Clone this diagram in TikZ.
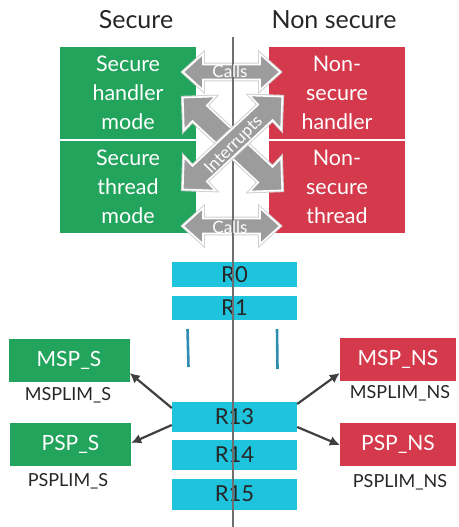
\documentclass[tikz,border=0pt]{standalone}
\usepackage{fontspec}
\setmainfont{Lato}
\usetikzlibrary{arrows.meta}
\definecolor{secgreen}{HTML}{22A45C}
\definecolor{nsred}{HTML}{D43A4C}
\definecolor{regcyan}{HTML}{1EC4DD}
\definecolor{dotblue}{HTML}{2E8DB0}
\definecolor{arrgrey}{HTML}{9C9C9C}
\definecolor{linkgrey}{HTML}{404040}
\definecolor{midline}{HTML}{6E6E6E}

% grey double-headed block arrow: centre, angle, half length, body half width, head half width, head length
\newcommand\gdblarrow[6]{%
  \begin{scope}[shift={#1}, rotate=#2]
    \path[blockarrow] (-#3,0) -- (-#3+#6,#5) -- (-#3+#6,#4) -- (#3-#6,#4) -- (#3-#6,#5) -- (#3,0)
      -- (#3-#6,-#5) -- (#3-#6,-#4) -- (-#3+#6,-#4) -- (-#3+#6,-#5) -- cycle;
  \end{scope}}

\begin{document}
\begin{tikzpicture}[x=1pt, y=-1pt,
  blockarrow/.style={fill=arrgrey, draw=white, line width=1.6pt, line join=miter,
    preaction={draw=black!18, line width=3.6pt}},
  modebox/.style={minimum width=136pt, minimum height=92pt, inner sep=0pt, text=white,
    align=center, font=\fontsize{21.5}{29}\selectfont},
  secmode/.style={modebox, fill=secgreen},
  nsmode/.style={modebox, fill=nsred},
  reg/.style={fill=regcyan, minimum width=125pt, inner sep=0pt, text=black!85,
    font=\fontsize{22}{22}\selectfont},
  spbox/.style={minimum width=121pt, minimum height=43pt, inner sep=0pt, text=white,
    font=\fontsize{21}{21}\selectfont},
  limlabel/.style={text=black!85, font=\fontsize{18}{18}\selectfont},
  header/.style={font=\fontsize{25}{25}\selectfont, text=black!85},
  arrlabel/.style={text=white, inner sep=0pt, font=\fontsize{17}{17}\selectfont},
  link/.style={draw=linkgrey, line width=2.2pt, -{Latex[length=10pt, width=10pt]}},
  vdots/.style={draw=dotblue, line width=2.6pt}
]
\useasboundingbox (0,0) rectangle (458,527);

% column headings
\node[header] (hsec) at (136,20) {Secure};
\node[header] (hns) at (334,20) {Non secure};

% processor modes
\node[secmode] (shandler) at (128,93) {Secure\\handler\\mode};
\node[secmode] (sthread) at (128,187) {Secure\\thread\\mode};
\node[nsmode] (nshandler) at (337,93) {Non-\\secure\\handler};
\node[nsmode] (nsthread) at (337,187) {Non-\\secure\\thread};

% calls between the two worlds
\gdblarrow{(231.5,72)}{0}{48.5}{7.5}{18}{20}
\gdblarrow{(231.5,226)}{0}{48.5}{7.5}{18}{20}

% registers
\node[reg, minimum height=25pt] (r0) at (234.5,274.5) {R0};
\node[reg, minimum height=24pt] (r1) at (234.5,308) {R1};
\node[reg, minimum height=30pt] (r13) at (234.5,417) {R13};
\node[reg, minimum height=30pt] (r14) at (234.5,455) {R14};
\node[reg, minimum height=31pt] (r15) at (234.5,494) {R15};

% dividing line between secure and non-secure
\coordinate (ltop) at (233,37);
\coordinate (lbot) at (233,527);
\draw[midline, line width=1.8pt] (ltop) -- (lbot);

% interrupts between the two worlds
\gdblarrow{(232.5,144)}{-43}{68}{10.5}{23}{23}
\gdblarrow{(232.5,143)}{43}{68}{10.5}{23}{23}

\node[arrlabel] (calls1) at (230,71) {Calls};
\node[arrlabel] (calls2) at (230,227) {Calls};
\node[arrlabel, rotate=45] (intr) at (234,145) {Interrupts};

% elided registers
\coordinate (d1a) at (187.5,329);
\coordinate (d1b) at (188.5,367);
\coordinate (d2a) at (277,329);
\coordinate (d2b) at (277.5,369);
\draw[vdots] (d1a) -- (d1b);
\draw[vdots] (d2a) -- (d2b);

% stack pointers and limits
\node[spbox, fill=secgreen] (msps) at (69,360) {MSP\_S};
\node[limlabel] (mspls) at (68,395) {MSPLIM\_S};
\node[spbox, fill=secgreen] (psps) at (70.5,444) {PSP\_S};
\node[limlabel] (pspls) at (68,481) {PSPLIM\_S};
\node[spbox, fill=nsred, minimum width=116pt] (mspns) at (398,359) {MSP\_NS};
\node[limlabel] (msplns) at (400,393) {MSPLIM\_NS};
\node[spbox, fill=nsred, minimum width=116pt] (pspns) at (398,444) {PSP\_NS};
\node[limlabel] (psplns) at (400,482) {PSPLIM\_NS};

% R13 is banked
\draw[link] ([yshift=9pt]r13.west) -- ([yshift=-13pt]msps.east);
\draw[link] ([yshift=-8pt]r13.west) -- ([yshift=1pt]psps.east);
\draw[link] ([yshift=13pt]r13.east) -- ([yshift=-14pt]mspns.west);
\draw[link] ([yshift=-10pt]r13.east) -- ([yshift=-1pt]pspns.west);
\end{tikzpicture}
\end{document}
